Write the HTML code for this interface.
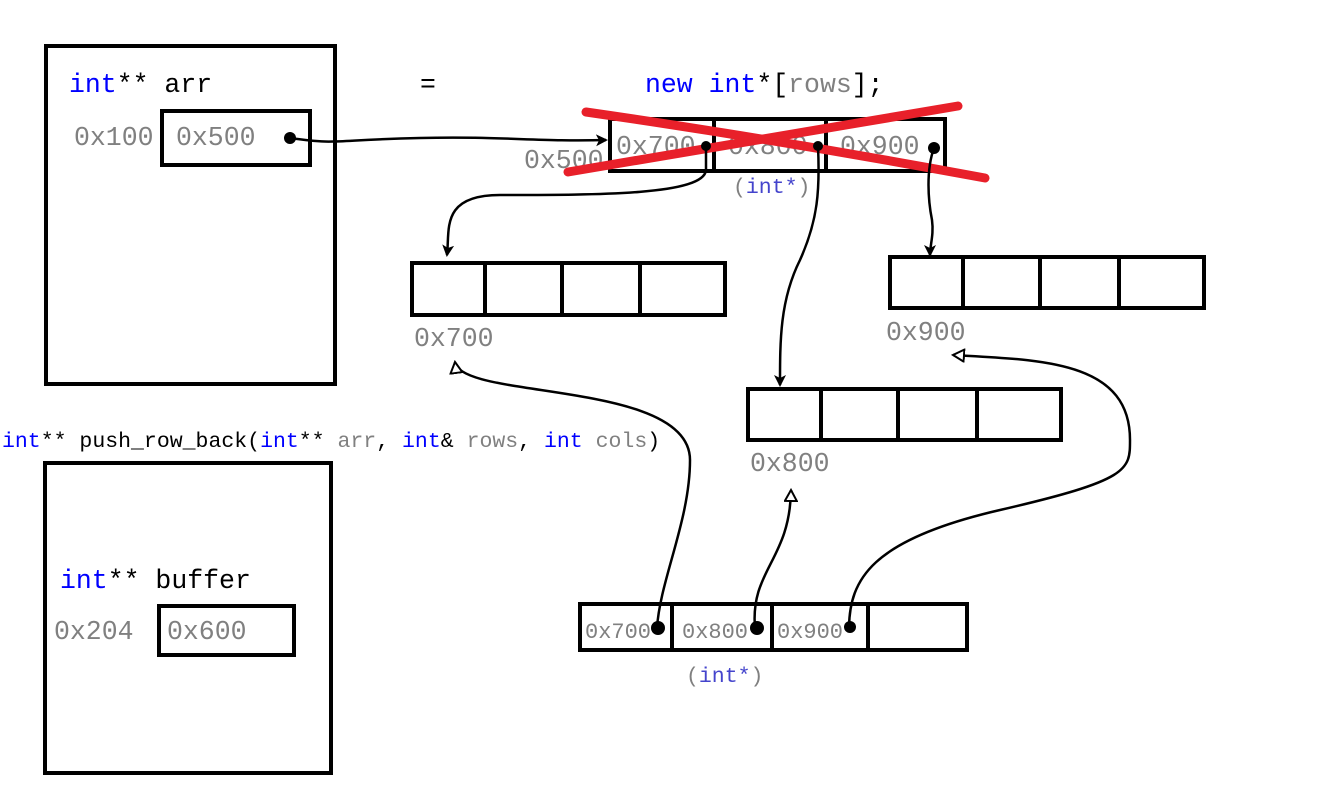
<!DOCTYPE html>
<html><head><meta charset="utf-8"><style>
html,body{margin:0;padding:0;background:#fff;}
svg{display:block;}
text{font-family:"Liberation Mono",monospace;}
.g{fill:#808080}.b{fill:#0000ff}.k{fill:#000}.p{fill:#4444cc}
</style></head><body>
<svg width="1330" height="798" viewBox="0 0 1330 798" xmlns="http://www.w3.org/2000/svg">
<defs>
<marker id="ah" markerWidth="12" markerHeight="12" refX="10" refY="6" orient="auto" markerUnits="userSpaceOnUse">
<path d="M0,0 L12,6 L0,12 L3,6 Z" fill="#000"/></marker>
<marker id="oh" markerWidth="14" markerHeight="14" refX="12" refY="7" orient="auto" markerUnits="userSpaceOnUse">
<path d="M1,1 L12,7 L1,13 Z" fill="#fff" stroke="#000" stroke-width="2"/></marker>
</defs>
<g fill="none" stroke="#000" stroke-width="4">
<rect x="46" y="46" width="289" height="338"/>
<rect x="162" y="111" width="148" height="54"/>
<rect x="610" y="119" width="335" height="52"/>
<line x1="714" y1="119" x2="714" y2="171"/><line x1="826" y1="119" x2="826" y2="171"/>
<rect x="412" y="263" width="313" height="52"/>
<line x1="485" y1="263" x2="485" y2="315"/><line x1="562" y1="263" x2="562" y2="315"/><line x1="640" y1="263" x2="640" y2="315"/>
<rect x="890" y="257" width="314" height="51"/>
<line x1="963" y1="257" x2="963" y2="308"/><line x1="1040" y1="257" x2="1040" y2="308"/><line x1="1119" y1="257" x2="1119" y2="308"/>
<rect x="748" y="389" width="313" height="51"/>
<line x1="821" y1="389" x2="821" y2="440"/><line x1="898" y1="389" x2="898" y2="440"/><line x1="977" y1="389" x2="977" y2="440"/>
<rect x="45" y="463" width="286" height="310"/>
<rect x="159" y="606" width="135" height="49"/>
<rect x="580" y="604" width="387" height="46"/>
<line x1="672" y1="604" x2="672" y2="650"/><line x1="772" y1="604" x2="772" y2="650"/><line x1="868" y1="604" x2="868" y2="650"/>
</g>
<g font-size="26.5">
<text x="69" y="92"><tspan class="b">int</tspan><tspan class="k">** arr</tspan></text>
<text x="74" y="145" class="g">0x100</text>
<text x="176" y="145" class="g">0x500</text>
<text x="420" y="92" class="k">=</text>
<text x="645" y="92"><tspan class="b">new int</tspan><tspan class="k">*[</tspan><tspan class="g">rows</tspan><tspan class="k">];</tspan></text>
<text x="616" y="154" class="g">0x700</text>
<text x="728" y="154" class="g">0x800</text>
<text x="840" y="154" class="g">0x900</text>
<text x="524" y="168" class="g">0x500</text>
<text x="414" y="346" class="g">0x700</text>
<text x="886" y="340" class="g">0x900</text>
<text x="750" y="471" class="g">0x800</text>
<text x="60" y="588"><tspan class="b">int</tspan><tspan class="k">** buffer</tspan></text>
<text x="54" y="639" class="g">0x204</text>
<text x="167" y="639" class="g">0x600</text>
</g>
<g font-size="21.5">
<text x="733" y="193"><tspan class="g">(</tspan><tspan class="p">int*</tspan><tspan class="g">)</tspan></text>
<text x="2" y="447"><tspan class="b">int</tspan><tspan class="k">** push_row_back(</tspan><tspan class="b">int</tspan><tspan class="k">** </tspan><tspan class="g">arr</tspan><tspan class="k">, </tspan><tspan class="b">int</tspan><tspan class="k">&amp; </tspan><tspan class="g">rows</tspan><tspan class="k">, </tspan><tspan class="b">int</tspan><tspan class="k"> </tspan><tspan class="g">cols</tspan><tspan class="k">)</tspan></text>
<text x="686" y="682"><tspan class="g">(</tspan><tspan class="p">int*</tspan><tspan class="g">)</tspan></text>
</g>
<g font-size="22" class="g">
<text x="585" y="638">0x700</text>
<text x="682" y="638">0x800</text>
<text x="777" y="638">0x900</text>
</g>
<g fill="none" stroke="#e8202a" stroke-width="9" stroke-linecap="round">
<path d="M586,112 Q780,140 985,178"/>
<path d="M568,172 Q760,140 958,106"/>
</g>
<g fill="none" stroke="#000" stroke-width="2.5">
<path d="M290,138 C340,145 330,140 420,138 C500,136 540,142 606,140" marker-end="url(#ah)"/>
<path d="M706,146 L706,170 C704,195 600,195 500,195 C440,195 450,230 447,255" marker-end="url(#ah)"/>
<path d="M818,146 C820,190 818,220 800,260 C780,300 780,340 780,385" marker-end="url(#ah)"/>
<path d="M934,148 C926,170 928,200 932,220 C934,235 930,245 930,255" marker-end="url(#ah)"/>
<path d="M657,628 C660,580 690,520 690,460 C690,380 460,400 455,362" marker-end="url(#oh)"/>
<path d="M755,628 C750,570 790,560 791,490" marker-end="url(#oh)"/>
<path d="M849,627 C850,580 870,540 1000,510 C1130,480 1130,470 1130,440 C1130,360 1040,360 953,355" marker-end="url(#oh)"/>
</g>
<g fill="#000">
<circle cx="290" cy="138" r="6"/><circle cx="706" cy="146" r="5"/><circle cx="818" cy="146" r="5"/><circle cx="934" cy="148" r="6"/>
<circle cx="658" cy="628" r="7"/><circle cx="757" cy="628" r="7"/><circle cx="850" cy="627" r="6"/>
</g>
</svg>
</body></html>
